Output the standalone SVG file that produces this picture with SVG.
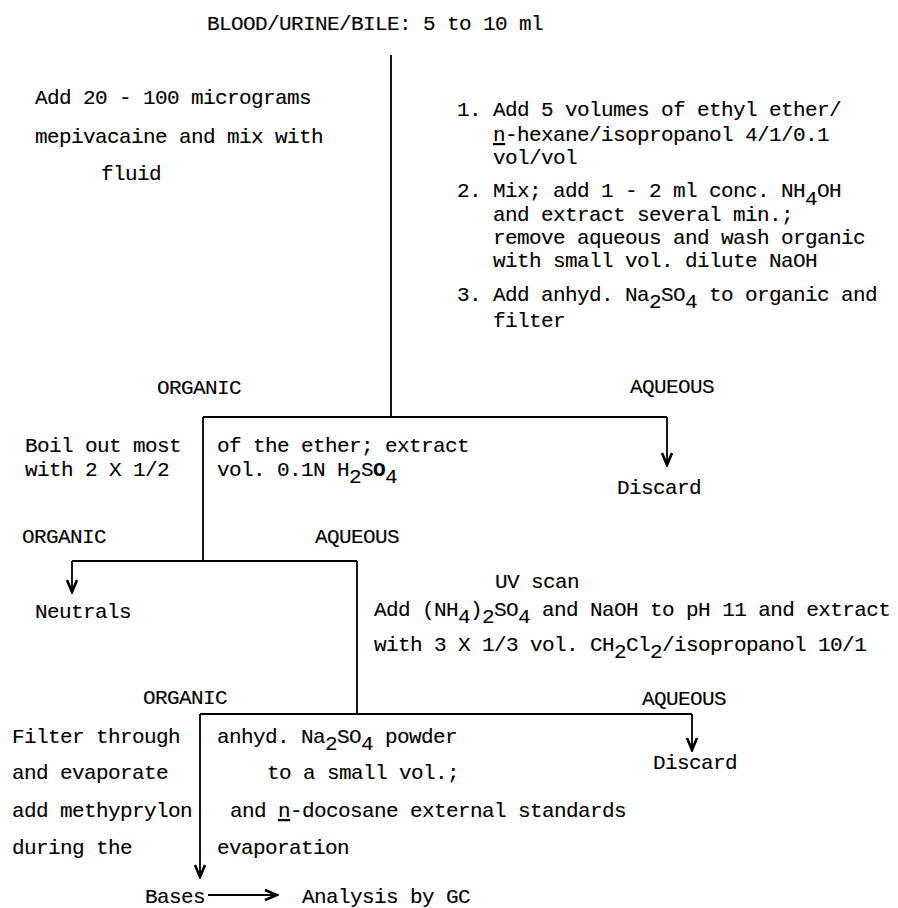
<svg xmlns="http://www.w3.org/2000/svg" width="898" height="908" viewBox="0 0 898 908">
  <style>
    .t { font-family: "Liberation Mono", "Courier New", monospace; font-size: 21px; letter-spacing: -0.6px; fill: #000; stroke: #000; stroke-width: 0.12; }
    .ln { fill: none; stroke: #000; stroke-width: 1.8; }
    .u { text-decoration: underline; }
  </style>
  <defs>
    <marker id="ah" viewBox="-14 -8 16 16" refX="0" refY="0" markerWidth="16" markerHeight="16" orient="auto" markerUnits="userSpaceOnUse">
      <path d="M-12,-5 L0,0 L-12,5" fill="none" stroke="#000" stroke-width="2.6" stroke-linejoin="miter"/>
    </marker>
  </defs>

  <rect width="898" height="908" fill="#fff"/>

  <!-- connectors -->
  <g id="connectors">
    <path class="ln" d="M391 55 V417"/>
    <path class="ln" d="M203 417 H667"/>
    <path class="ln" d="M667 417 V465" marker-end="url(#ah)"/>
    <path class="ln" d="M203 417 V561"/>
    <path class="ln" d="M72 561 H357"/>
    <path class="ln" d="M72 561 V592" marker-end="url(#ah)"/>
    <path class="ln" d="M357 561 V714"/>
    <path class="ln" d="M200 714 H692"/>
    <path class="ln" d="M692 714 V750" marker-end="url(#ah)"/>
    <path class="ln" d="M200 714 V877" marker-end="url(#ah)"/>
    <path class="ln" d="M208 895 H277" marker-end="url(#ah)"/>
  </g>

  <!-- sample -->
  <g id="sample">
    <text class="t" x="207" y="30">BLOOD/URINE/BILE: 5 to 10 ml</text>
  </g>

  <!-- internal standard addition -->
  <g id="internal-standard">
    <text class="t" x="35" y="104">Add 20 - 100 micrograms</text>
    <text class="t" x="35" y="143">mepivacaine and mix with</text>
    <text class="t" x="101" y="180">fluid</text>
  </g>

  <!-- first extraction steps -->
  <g id="extraction-steps">
    <text class="t" x="457" y="116">1. Add 5 volumes of ethyl ether/</text>
    <text class="t" x="493" y="141"><tspan class="u">n</tspan>-hexane/isopropanol 4/1/0.1</text>
    <text class="t" x="493" y="164">vol/vol</text>
    <text class="t" x="457" y="197">2. Mix; add 1 - 2 ml conc. NH<tspan dy="8">4</tspan><tspan dy="-8">OH</tspan></text>
    <text class="t" x="493" y="221">and extract several min.;</text>
    <text class="t" x="493" y="244">remove aqueous and wash organic</text>
    <text class="t" x="493" y="267">with small vol. dilute NaOH</text>
    <text class="t" x="457" y="301">3. Add anhyd. Na<tspan dy="7">2</tspan><tspan dy="-7">SO</tspan><tspan dy="7">4</tspan><tspan dy="-7"> to organic and</tspan></text>
    <text class="t" x="493" y="327">filter</text>
  </g>

  <!-- first phase split -->
  <g id="split-1">
    <text class="t" x="157" y="394">ORGANIC</text>
    <text class="t" x="630" y="393">AQUEOUS</text>
  </g>

  <g id="discard-1">
    <text class="t" x="617" y="494">Discard</text>
  </g>

  <!-- acid back-extraction -->
  <g id="acid-extraction">
    <text class="t" x="25" y="452">Boil out most</text>
    <text class="t" x="25" y="476">with 2 X 1/2</text>
    <text class="t" x="217" y="452">of the ether; extract</text>
    <text class="t" x="217" y="476">vol. 0.1N H<tspan dy="7">2</tspan><tspan dy="-7">S</tspan><tspan font-weight="bold">O</tspan><tspan dy="7">4</tspan></text>
  </g>

  <!-- second phase split -->
  <g id="split-2">
    <text class="t" x="22" y="543">ORGANIC</text>
    <text class="t" x="315" y="543">AQUEOUS</text>
  </g>

  <g id="neutrals">
    <text class="t" x="35" y="618">Neutrals</text>
  </g>

  <!-- basification and extraction -->
  <g id="base-extraction">
    <text class="t" x="495" y="588">UV scan</text>
    <text class="t" x="374" y="616">Add (NH<tspan dy="7">4</tspan><tspan dy="-7">)</tspan><tspan dy="7">2</tspan><tspan dy="-7">SO</tspan><tspan dy="7">4</tspan><tspan dy="-7"> and NaOH to pH 11 and extract</tspan></text>
    <text class="t" x="374" y="651">with 3 X 1/3 vol. CH<tspan dy="7">2</tspan><tspan dy="-7">Cl</tspan><tspan dy="7">2</tspan><tspan dy="-7">/isopropanol 10/1</tspan></text>
  </g>

  <!-- third phase split -->
  <g id="split-3">
    <text class="t" x="143" y="704">ORGANIC</text>
    <text class="t" x="642" y="705">AQUEOUS</text>
  </g>

  <g id="discard-2">
    <text class="t" x="653" y="769">Discard</text>
  </g>

  <!-- drying and concentration -->
  <g id="drying">
    <text class="t" x="12" y="743">Filter through</text>
    <text class="t" x="12" y="779">and evaporate</text>
    <text class="t" x="12" y="817">add methyprylon</text>
    <text class="t" x="12" y="854">during the</text>
    <text class="t" x="217" y="743">anhyd. Na<tspan dy="7">2</tspan><tspan dy="-7">SO</tspan><tspan dy="7">4</tspan><tspan dy="-7"> powder</tspan></text>
    <text class="t" x="267" y="779">to a small vol.;</text>
    <text class="t" x="230" y="817">and <tspan class="u">n</tspan>-docosane external standards</text>
    <text class="t" x="217" y="854">evaporation</text>
  </g>

  <g id="bases">
    <text class="t" x="145" y="903">Bases</text>
  </g>

  <g id="analysis">
    <text class="t" x="302" y="903">Analysis by GC</text>
  </g>
</svg>
